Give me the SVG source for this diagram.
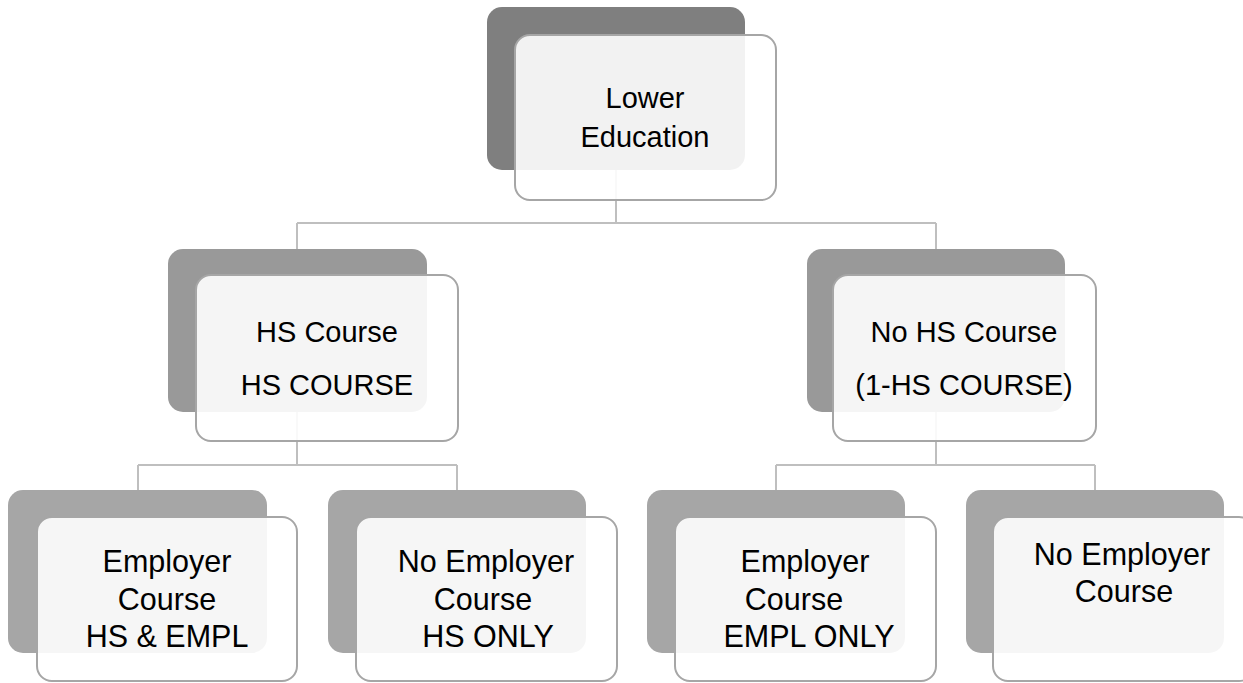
<svg xmlns="http://www.w3.org/2000/svg" width="1243" height="683" viewBox="0 0 1243 683">
<style>
.bg{fill:#fff}
.conn{fill:none;stroke:#bfbfbf;stroke-width:2}
.b1{fill:#7f7f7f}
.b2{fill:#999999}
.b3{fill:#a6a6a6}
.front{fill:#fff;fill-opacity:0.9;stroke:#a6a6a6;stroke-width:2}
text{font-family:"Liberation Sans",Arial,sans-serif;font-size:29px;fill:#000;text-anchor:middle}
text.l3{font-size:30.5px}
</style>
<rect class="bg" x="0" y="0" width="1243" height="683"/>
<g id="connectors">
<path class="conn" d="M616,170 V223 M297,223 H936 M297,223 V249 M936,223 V249"/>
<path class="conn" d="M297,412 V465 M138,465 H457 M138,465 V490 M457,465 V490"/>
<path class="conn" d="M936,412 V465 M776,465 H1095 M776,465 V490 M1095,465 V490"/>
</g>
<g id="lower-education">
<rect class="b1" x="487" y="7" width="258" height="163" rx="15"/>
<rect class="front" x="515" y="35" width="261" height="165" rx="15"/>
<text x="645" y="108">Lower</text>
<text x="645" y="147">Education</text>
</g>
<g id="hs-course">
<rect class="b2" x="168" y="249" width="259" height="163" rx="15"/>
<rect class="front" x="196" y="275" width="262" height="166" rx="15"/>
<text x="327" y="342">HS Course</text>
<text x="327" y="395">HS COURSE</text>
</g>
<g id="no-hs-course">
<rect class="b2" x="807" y="249" width="258" height="163" rx="15"/>
<rect class="front" x="833" y="275" width="263" height="166" rx="15"/>
<text x="964" y="342">No HS Course</text>
<text x="964" y="395">(1-HS COURSE)</text>
</g>
<g id="hs-empl">
<rect class="b3" x="8" y="490" width="259" height="163" rx="15"/>
<rect class="front" x="37" y="517" width="260" height="164" rx="15"/>
<text class="l3" x="167" y="572">Employer</text>
<text class="l3" x="167" y="610">Course</text>
<text class="l3" x="167" y="647">HS &amp; EMPL</text>
</g>
<g id="hs-only">
<rect class="b3" x="328" y="490" width="258" height="163" rx="15"/>
<rect class="front" x="356" y="517" width="261" height="164" rx="15"/>
<text class="l3" x="486" y="572">No Employer</text>
<text class="l3" x="483" y="610">Course</text>
<text class="l3" x="488" y="647">HS ONLY</text>
</g>
<g id="empl-only">
<rect class="b3" x="647" y="490" width="258" height="163" rx="15"/>
<rect class="front" x="675" y="517" width="261" height="164" rx="15"/>
<text class="l3" x="805" y="572">Employer</text>
<text class="l3" x="794" y="610">Course</text>
<text class="l3" x="809" y="647">EMPL ONLY</text>
</g>
<g id="no-employer">
<rect class="b3" x="966" y="490" width="258" height="163" rx="15"/>
<rect class="front" x="993" y="517" width="261" height="164" rx="15"/>
<text class="l3" x="1122" y="565">No Employer</text>
<text class="l3" x="1124" y="602">Course</text>
</g>
</svg>
